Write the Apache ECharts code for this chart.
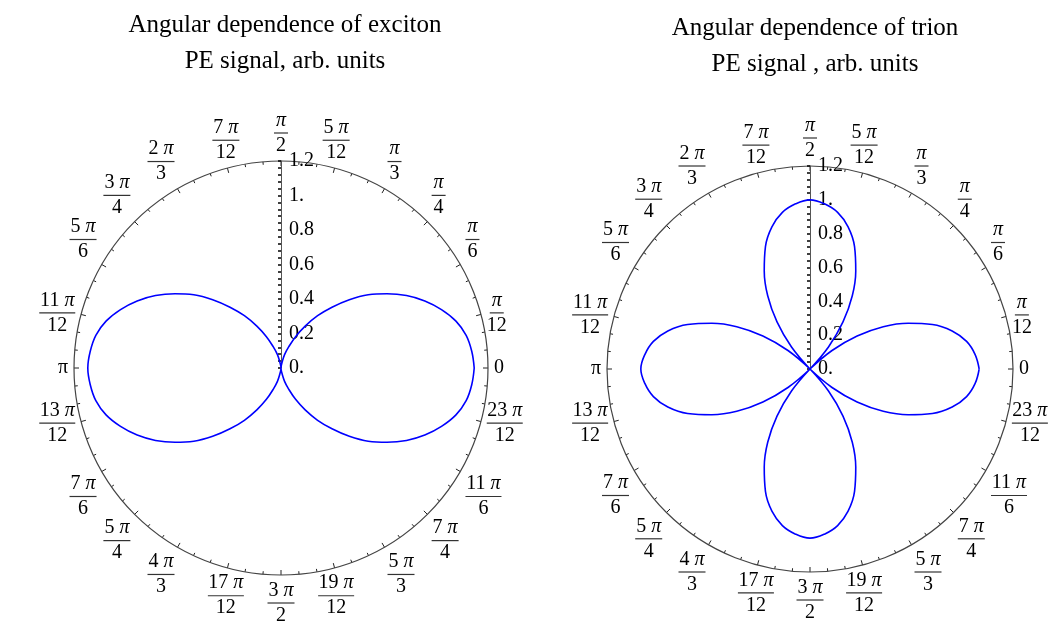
<!DOCTYPE html>
<html>
<head>
<meta charset="utf-8">
<script src="https://cdn.jsdelivr.net/npm/echarts@6/dist/echarts.min.js"></script>
<style>
html, body { margin: 0; padding: 0; background: #fff; }
#chart { width: 1054px; height: 626px; }
</style>
</head>
<body>
<div id="chart"></div>
<script>
// angles in degrees, 0..360 step 5
var angles = [0,5,10,15,20,25,30,35,40,45,50,55,60,65,70,75,80,85,90,
  95,100,105,110,115,120,125,130,135,140,145,150,155,160,165,170,175,180,
  185,190,195,200,205,210,215,220,225,230,235,240,245,250,255,260,265,270,
  275,280,285,290,295,300,305,310,315,320,325,330,335,340,345,350,355,360];

// exciton PE signal (two lobes)
var exciton = [1.12,1.11,1.09,1.05,0.99,0.92,0.84,0.75,0.66,0.56,0.46,0.37,0.28,0.20,0.13,0.08,0.03,0.01,0,
  0.01,0.03,0.08,0.13,0.20,0.28,0.37,0.46,0.56,0.66,0.75,0.84,0.92,0.99,1.05,1.09,1.11,1.12,
  1.11,1.09,1.05,0.99,0.92,0.84,0.75,0.66,0.56,0.46,0.37,0.28,0.20,0.13,0.08,0.03,0.01,0,
  0.01,0.03,0.08,0.13,0.20,0.28,0.37,0.46,0.56,0.66,0.75,0.84,0.92,0.99,1.05,1.09,1.11,1.12];

// trion PE signal (four lobes)
var trion = [1,0.98,0.94,0.87,0.77,0.64,0.50,0.34,0.17,0,0.17,0.34,0.50,0.64,0.77,0.87,0.94,0.98,1,
  0.98,0.94,0.87,0.77,0.64,0.50,0.34,0.17,0,0.17,0.34,0.50,0.64,0.77,0.87,0.94,0.98,1,
  0.98,0.94,0.87,0.77,0.64,0.50,0.34,0.17,0,0.17,0.34,0.50,0.64,0.77,0.87,0.94,0.98,1,
  0.98,0.94,0.87,0.77,0.64,0.50,0.34,0.17,0,0.17,0.34,0.50,0.64,0.77,0.87,0.94,0.98,1];

// angle tick labels every pi/12, "numerator|denominator"
var angleLabels = ['0', 'π|12', 'π|6', 'π|4', 'π|3', '5 π|12', 'π|2', '7 π|12', '2 π|3', '3 π|4', '5 π|6', '11 π|12',
  'π', '13 π|12', '7 π|6', '5 π|4', '4 π|3', '17 π|12', '3 π|2', '19 π|12', '5 π|3', '7 π|4', '11 π|6', '23 π|12'];

var radiusLabels = ['0.', '0.2', '0.4', '0.6', '0.8', '1.', '1.2'];

var titles = [
  'Angular dependence of exciton\nPE signal, arb. units',
  'Angular dependence of trion\nPE signal , arb. units'
];

var serif = 'Liberation Serif';

function toPolar(vals) {
  return angles.map(function (a, i) {
    return [vals[i], a < 90 ? a + 360 : a];
  });
}

function angleFormatter(v) {
  var t = angleLabels[(Math.round(v) % 360) / 15];
  if (t === undefined) return '';
  if (t.indexOf('|') < 0) return '{s|' + t + '}';
  var parts = t.split('|');
  var coef = parts[0].replace('π', '');
  var len = coef.trim().length;
  var bar = len === 0 ? 'b1' : (len === 1 ? 'b2' : 'b3');
  return '{n|' + coef + '}{p|π}\n{' + bar + '| }\n{d|' + parts[1] + '}';
}

var barStyle = function (w) {
  return { width: w, height: 1.2, lineHeight: 6, backgroundColor: '#333', align: 'center', fontSize: 1 };
};

var rich = {
  s: { fontSize: 20, fontFamily: serif, color: '#000', lineHeight: 20 },
  n: { fontSize: 20, fontFamily: serif, color: '#000', lineHeight: 19, align: 'center' },
  p: { fontSize: 20, fontFamily: serif, color: '#000', lineHeight: 19, fontStyle: 'italic', align: 'center' },
  d: { fontSize: 20, fontFamily: serif, color: '#000', lineHeight: 19, align: 'center' },
  b1: barStyle(14),
  b2: barStyle(27),
  b3: barStyle(36)
};

function angleAxis(idx) {
  return {
    polarIndex: idx,
    type: 'value',
    min: 90,
    max: 450,
    interval: 15,
    startAngle: 90,
    clockwise: false,
    axisLine: { lineStyle: { color: '#444', width: 1.2 } },
    axisTick: { inside: true, length: 5, lineStyle: { color: '#222', width: 1 } },
    minorTick: { show: true, splitNumber: 3, length: 3, lineStyle: { color: '#222', width: 1 } },
    splitLine: { show: false },
    minorSplitLine: { show: false },
    axisLabel: { margin: 6, formatter: angleFormatter, rich: rich }
  };
}

function radiusAxis(idx) {
  return {
    polarIndex: idx,
    type: 'value',
    min: 0,
    max: 1.2,
    interval: 0.2,
    axisLine: { lineStyle: { color: '#555', width: 1 } },
    axisTick: { length: 3, lineStyle: { color: '#000', width: 1.5 } },
    minorTick: { show: true, splitNumber: 5, length: 3, lineStyle: { color: '#000', width: 1.5 } },
    splitLine: { show: false },
    minorSplitLine: { show: false },
    axisLabel: {
      margin: -8,
      align: 'left',
      fontFamily: serif,
      fontSize: 20,
      color: '#000',
      formatter: function (v) { return radiusLabels[Math.round(v / 0.2)]; }
    }
  };
}

function titleItem(i, x, y) {
  return {
    text: titles[i],
    left: x,
    top: y,
    textAlign: 'center',
    textStyle: { fontFamily: serif, fontWeight: 'normal', fontSize: 25, lineHeight: 36, color: '#000' }
  };
}

var chart = echarts.init(document.getElementById('chart'));
chart.setOption({
  animation: false,
  backgroundColor: '#fff',
  title: [titleItem(0, 280, 2), titleItem(1, 810, 5)],
  polar: [
    { center: [281, 368], radius: 207 },
    { center: [810, 369], radius: 203 }
  ],
  angleAxis: [angleAxis(0), angleAxis(1)],
  radiusAxis: [radiusAxis(0), radiusAxis(1)],
  series: [
    {
      type: 'line', coordinateSystem: 'polar', polarIndex: 0,
      data: toPolar(exciton), showSymbol: false, symbol: 'none', smooth: 0.4,
      lineStyle: { color: '#0000ff', width: 1.6 }
    },
    {
      type: 'line', coordinateSystem: 'polar', polarIndex: 1,
      data: toPolar(trion), showSymbol: false, symbol: 'none', smooth: 0.4,
      lineStyle: { color: '#0000ff', width: 1.6 }
    }
  ]
});
window.addEventListener('resize', function () { chart.resize(); });
</script>
</body>
</html>
